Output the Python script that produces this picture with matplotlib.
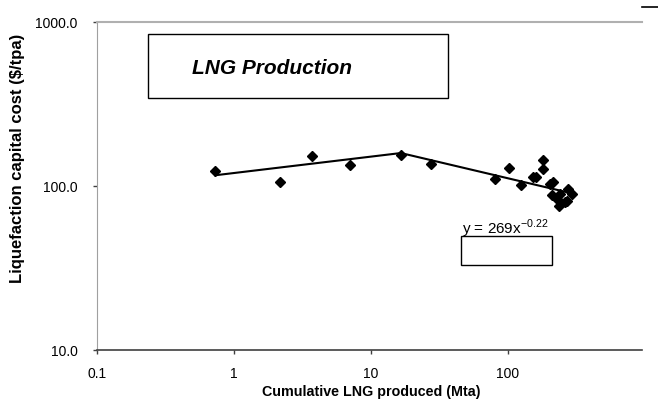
import numpy as np
import matplotlib
matplotlib.use("Agg")
import matplotlib.pyplot as plt
from matplotlib.patches import Rectangle
from matplotlib.lines import Line2D
from matplotlib.ticker import FixedLocator, FixedFormatter, NullLocator

plt.rcParams['font.family'] = ['Liberation Sans', 'DejaVu Sans']

# cumulative production (Mta) and liquefaction capital cost ($/tpa)
prod = [0.73, 2.17, 3.71, 7.0, 16.6, 27.3,
        80.4, 102, 124, 153, 160, 179, 179, 203, 214, 208,
        233, 240, 236, 261, 268, 275, 292]
cost = [123.5, 105.8, 153, 133.7, 154.7, 135.6,
        109.9, 128.8, 101, 114, 114, 144, 126.4, 102.4, 105.3, 88.1,
        82.2, 89, 75.9, 80.3, 81.3, 95.9, 89.4]

# two power-law segments y = a * x^b, before and after the break
seg1_a, seg1_b, seg1_range = 120.0, 0.10, (0.73, 16.6)
seg2_a, seg2_b, seg2_range = 276.0, -0.197, (16.6, 284)

x_ticks = [0.1, 1, 10, 100]
x_tick_labels = ['0.1', '1', '10', '100']
y_ticks = [10, 100, 1000]
y_tick_labels = ['10.0', '100.0', '1000.0']

W, H = 658, 411
fig = plt.figure(figsize=(W / 100, H / 100), dpi=100)
ax = fig.add_axes([97 / W, 1 - 350 / H, 545 / W, 328 / H])

ax.set_xscale('log')
ax.set_yscale('log')
ax.set_xlim(0.1, 950)
ax.set_ylim(10, 1000)

for a, b, (lo, hi) in [(seg1_a, seg1_b, seg1_range), (seg2_a, seg2_b, seg2_range)]:
    xs = np.geomspace(lo, hi, 50)
    ax.plot(xs, a * xs ** b, color='black', lw=1.5, zorder=2)

ax.plot(prod, cost, linestyle='none', marker='D', markersize=5,
        color='black', zorder=3)

ax.xaxis.set_major_locator(FixedLocator(x_ticks))
ax.xaxis.set_major_formatter(FixedFormatter(x_tick_labels))
ax.yaxis.set_major_locator(FixedLocator(y_ticks))
ax.yaxis.set_major_formatter(FixedFormatter(y_tick_labels))
ax.xaxis.set_minor_locator(NullLocator())
ax.yaxis.set_minor_locator(NullLocator())
ax.tick_params(axis='x', length=3, width=1, color='#404040', pad=9,
               labelsize=10, labelcolor='black')
ax.tick_params(axis='y', length=3, width=1, color='#404040', pad=11,
               labelsize=10, labelcolor='black')

ax.spines['right'].set_visible(False)
ax.spines['top'].set_color('#b0b0b0')
ax.spines['top'].set_linewidth(1.5)
ax.spines['left'].set_color('#a0a0a0')
ax.spines['bottom'].set_color('#404040')
ax.spines['bottom'].set_linewidth(1.2)

fig.text(18 / W, 1 - 158 / H, 'Liquefaction capital cost ($/tpa)',
         rotation=90, ha='center', va='center', fontsize=12, fontweight='bold')
fig.text(371 / W, 1 - 392 / H, 'Cumulative LNG produced (Mta)',
         ha='center', va='center', fontsize=10.3, fontweight='bold')

# title box
fig.add_artist(Rectangle((148 / W, 1 - 98 / H), 300 / W, 64 / H,
                         transform=fig.transFigure, facecolor='white',
                         edgecolor='black', lw=1, zorder=4))
fig.text(272 / W, 1 - 68 / H, 'LNG Production', ha='center', va='center',
         fontsize=15, fontweight='bold', fontstyle='italic', zorder=5)

# trendline equation and its box
fig.text(462 / W, 1 - 229 / H, r'y = 269x$^{\mathregular{-0.22}}$',
         ha='left', va='center', fontsize=11, zorder=5)
fig.add_artist(Rectangle((461 / W, 1 - 265 / H), 91 / W, 29 / H,
                         transform=fig.transFigure, facecolor='white',
                         edgecolor='black', lw=1, zorder=4))

fig.add_artist(Line2D([642 / W, 1], [1 - 7 / H, 1 - 7 / H],
                      transform=fig.transFigure, color='black', lw=1.2))

fig.savefig('out.png', dpi=100)
